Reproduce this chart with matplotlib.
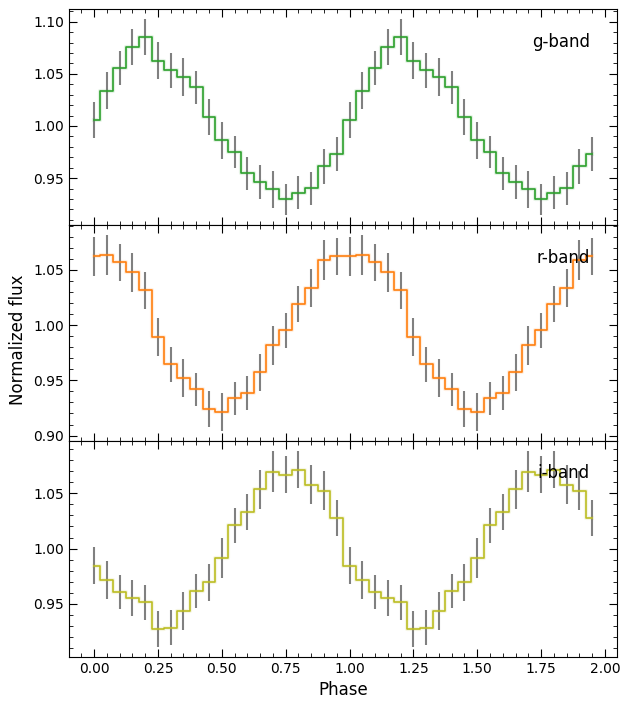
import numpy as np
import matplotlib
matplotlib.use("Agg")
import matplotlib.pyplot as plt
from matplotlib.ticker import AutoMinorLocator

phase_one = [0.00, 0.05, 0.10, 0.15, 0.20, 0.25, 0.30, 0.35, 0.40, 0.45,
             0.50, 0.55, 0.60, 0.65, 0.70, 0.75, 0.80, 0.85, 0.90, 0.95]

g_flux = [1.0055, 1.0337, 1.0555, 1.0757, 1.0853, 1.0625, 1.0535, 1.0468, 1.0372, 1.0083,
          0.9862, 0.9747, 0.9545, 0.9459, 0.9391, 0.9295, 0.9362, 0.9401, 0.9615, 0.9731]
g_err = [0.0173, 0.0178, 0.0162, 0.0173, 0.0173, 0.0176, 0.0168, 0.0184, 0.0160, 0.0173,
         0.0178, 0.0154, 0.0160, 0.0163, 0.0173, 0.0152, 0.0155, 0.0162, 0.0167, 0.0160]

r_flux = [1.0621, 1.0633, 1.0567, 1.0476, 1.0314, 0.9889, 0.9645, 0.9518, 0.9419, 0.9238,
          0.9211, 0.9337, 0.9382, 0.9572, 0.9816, 0.9952, 1.0187, 1.0332, 1.0585, 1.0621]
r_err = [0.0178, 0.0182, 0.0169, 0.0173, 0.0167, 0.0172, 0.0160, 0.0172, 0.0149, 0.0163,
         0.0172, 0.0149, 0.0154, 0.0167, 0.0176, 0.0158, 0.0163, 0.0172, 0.0181, 0.0167]

i_flux = [0.9846, 0.9720, 0.9605, 0.9557, 0.9515, 0.9271, 0.9286, 0.9434, 0.9614, 0.9696,
          0.9919, 1.0210, 1.0328, 1.0536, 1.0696, 1.0668, 1.0714, 1.0578, 1.0524, 1.0280]
i_err = [0.0170, 0.0172, 0.0155, 0.0163, 0.0160, 0.0163, 0.0157, 0.0173, 0.0154, 0.0167,
         0.0181, 0.0161, 0.0164, 0.0178, 0.0182, 0.0169, 0.0169, 0.0176, 0.0176, 0.0163]

bands = ["g-band", "r-band", "i-band"]
colors = ["#2ca02c", "#ff7f0e", "#bcbd22"]

phase = np.concatenate([phase_one, np.array(phase_one) + 1.0])
fluxes = [np.tile(g_flux, 2), np.tile(r_flux, 2), np.tile(i_flux, 2)]
errs = [np.tile(g_err, 2), np.tile(r_err, 2), np.tile(i_err, 2)]

fig, axes = plt.subplots(3, 1, sharex=True, figsize=(6.29, 7.09), dpi=100)
fig.subplots_adjust(left=0.110, right=0.981, top=0.987, bottom=0.0733, hspace=0)

for ax, f, e, c, lab in zip(axes, fluxes, errs, colors, bands):
    ax.errorbar(phase, f, yerr=e, fmt='none', ecolor='gray', elinewidth=1.5,
                capsize=0, zorder=1)
    ax.step(phase, f, where='mid', color=c, lw=3.0, alpha=0.12, zorder=2)
    ax.step(phase, f, where='mid', color=c, lw=1.2, zorder=3)
    ax.text(0.95, 0.85, lab, transform=ax.transAxes, ha='right', va='center',
            fontsize=12)
    ax.xaxis.set_minor_locator(AutoMinorLocator(5))
    ax.yaxis.set_minor_locator(AutoMinorLocator(5))
    ax.tick_params(which='both', direction='in', top=True, right=True)
    ax.tick_params(which='major', length=6)
    ax.tick_params(which='minor', length=3)

axes[2].set_xticks([0.0, 0.25, 0.5, 0.75, 1.0, 1.25, 1.5, 1.75, 2.0])
axes[2].set_xlabel("Phase", fontsize=12)
fig.text(0.0286, 0.5205, "Normalized flux", rotation=90, ha='center', va='center',
         fontsize=12)

fig.savefig("out.png", dpi=100)
